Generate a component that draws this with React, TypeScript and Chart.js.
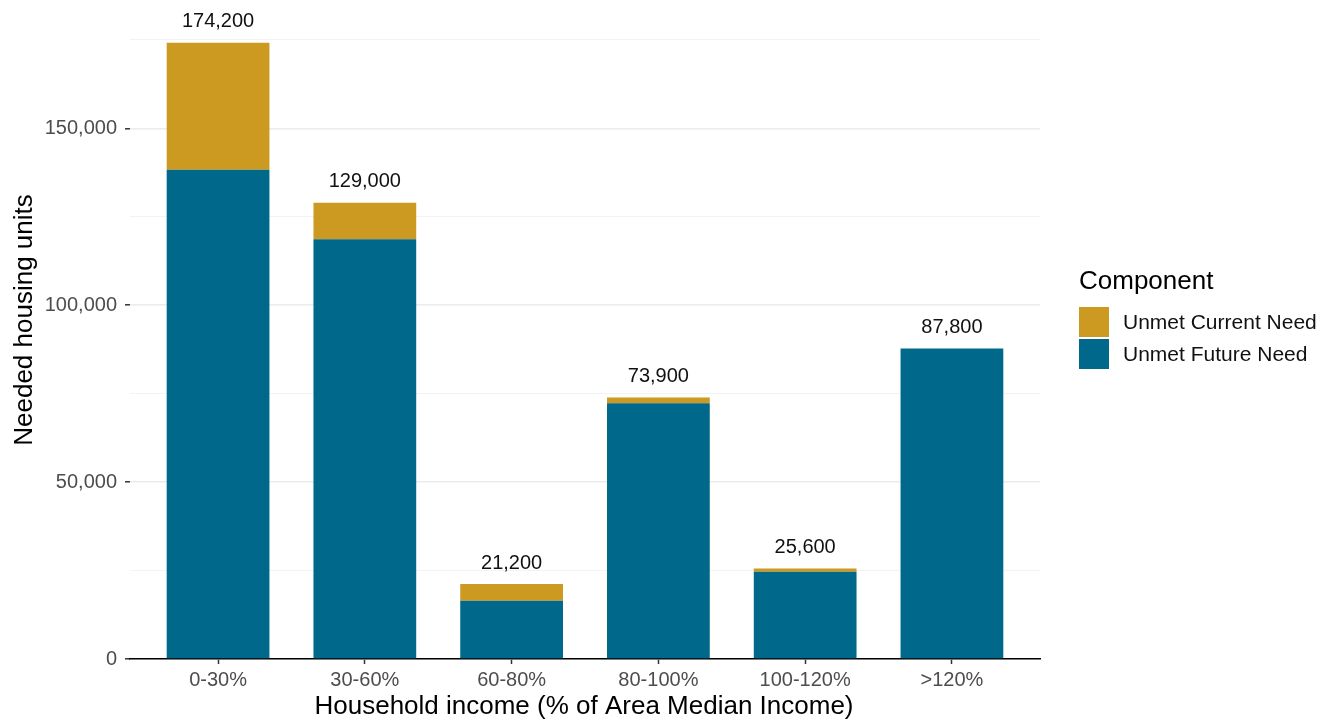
import React, { useEffect, useRef } from "react";
import { Chart, registerables } from "chart.js";

Chart.register(...registerables);

const categories = ["0-30%", "30-60%", "60-80%", "80-100%", "100-120%", ">120%"];
const futureNeed = [138300, 118700, 16500, 72300, 24700, 87800];
const currentNeed = [35900, 10300, 4700, 1600, 900, 0];
const totalLabels = ["174,200", "129,000", "21,200", "73,900", "25,600", "87,800"];
const yTickValues = [0, 25000, 50000, 75000, 100000, 125000, 150000, 175000];
const legendLabels = ["Unmet Current Need", "Unmet Future Need"];

const GOLD = "#CC9A20";
const BLUE = "#00688B";
const FONT = '"Liberation Sans", Arial, Helvetica, sans-serif';

export default function App() {
  const ref = useRef<HTMLCanvasElement>(null);

  useEffect(() => {
    const canvas = ref.current;
    if (!canvas) return;

    const overlay = {
      id: "overlay",
      afterDatasetsDraw(chart: any) {
        const ctx = chart.ctx;
        const xs = chart.scales.x;
        const ys = chart.scales.y;
        ctx.save();
        // totals above bars
        ctx.fillStyle = "#111";
        ctx.font = `20px ${FONT}`;
        ctx.textAlign = "center";
        ctx.textBaseline = "middle";
        categories.forEach((_, i) => {
          const total = futureNeed[i] + currentNeed[i];
          const x = xs.getPixelForValue(i + 1);
          const y = ys.getPixelForValue(total);
          ctx.fillText(totalLabels[i], x, y - 21);
        });
        // axis titles
        ctx.fillStyle = "#000";
        ctx.font = `26px ${FONT}`;
        const ca = chart.chartArea;
        ctx.fillText("Household income (% of Area Median Income)", (ca.left + ca.right) / 2 - 1, 707);
        ctx.save();
        ctx.translate(25, 320);
        ctx.rotate(-Math.PI / 2);
        ctx.fillText("Needed housing units", 0, 0);
        ctx.restore();
        // legend
        ctx.textAlign = "left";
        ctx.font = `26px ${FONT}`;
        ctx.fillText("Component", 1079, 282);
        ctx.font = `21px ${FONT}`;
        const colors = [GOLD, BLUE];
        legendLabels.forEach((lab, i) => {
          const top = 307 + i * 32;
          ctx.fillStyle = colors[i];
          ctx.fillRect(1079, top, 30, 30);
          ctx.fillStyle = "#111";
          ctx.fillText(lab, 1123, top + 16);
        });
        ctx.restore();
      },
    };

    const chart = new Chart(canvas, {
      type: "bar",
      data: {
        datasets: [
          {
            label: legendLabels[1],
            data: futureNeed.map((v, i) => ({ x: i + 1, y: v })),
            backgroundColor: BLUE,
            borderWidth: 0,
            categoryPercentage: 1,
            barPercentage: 0.7,
          },
          {
            label: legendLabels[0],
            data: currentNeed.map((v, i) => ({ x: i + 1, y: v })),
            backgroundColor: GOLD,
            borderWidth: 0,
            categoryPercentage: 1,
            barPercentage: 0.7,
          },
        ],
      },
      options: {
        responsive: false,
        animation: false,
        layout: { padding: { left: 0, top: 10, right: 288, bottom: 0 } },
        plugins: { legend: { display: false }, tooltip: { enabled: false } },
        scales: {
          x: {
            type: "linear",
            stacked: true,
            offset: false,
            min: 0.4,
            max: 6.6,
            afterBuildTicks: (s: any) => {
              s.ticks = categories.map((_, i) => ({ value: i + 1 }));
            },
            afterFit: (s: any) => {
              s.height = 65;
            },
            ticks: {
              callback: (v: any) => categories[Math.round(Number(v)) - 1] ?? "",
              font: { family: FONT, size: 20 },
              color: "#4D4D4D",
              padding: 4,
              maxRotation: 0,
              autoSkip: false,
            },
            grid: {
              offset: false,
              drawOnChartArea: false,
              drawTicks: true,
              tickLength: 5,
              tickColor: "#333",
              tickWidth: 1.5,
            },
            border: { display: true, color: "#000", width: 1.6 },
          },
          y: {
            stacked: true,
            min: 0,
            max: 182910,
            afterBuildTicks: (s: any) => {
              s.ticks = yTickValues.map((v) => ({ value: v }));
            },
            afterFit: (s: any) => {
              s.width = 130;
            },
            ticks: {
              callback: (v: any) =>
                Number(v) % 50000 === 0 ? Number(v).toLocaleString("en-US") : "",
              font: { family: FONT, size: 20, lineHeight: 0.4 },
              color: "#4D4D4D",
              padding: 8,
            },
            grid: {
              color: (c: any) =>
                c.tick && c.tick.value % 50000 === 0 ? "#EBEBEB" : "#F2F2F2",
              lineWidth: (c: any) =>
                c.tick && c.tick.value % 50000 === 0 ? 1.6 : 0.9,
              tickColor: (c: any) =>
                c.tick && c.tick.value % 50000 === 0 ? "#333" : "rgba(0,0,0,0)",
              tickLength: 5,
              tickWidth: 1.5,
            },
            border: { display: false },
          },
        },
      },
      plugins: [overlay],
    } as any);

    return () => chart.destroy();
  }, []);

  return (
    <div style={{ position: "fixed", left: 0, top: 0, width: 1328, height: 724, background: "#fff" }}>
      <canvas ref={ref} width={1328} height={724} style={{ display: "block" }} />
    </div>
  );
}
